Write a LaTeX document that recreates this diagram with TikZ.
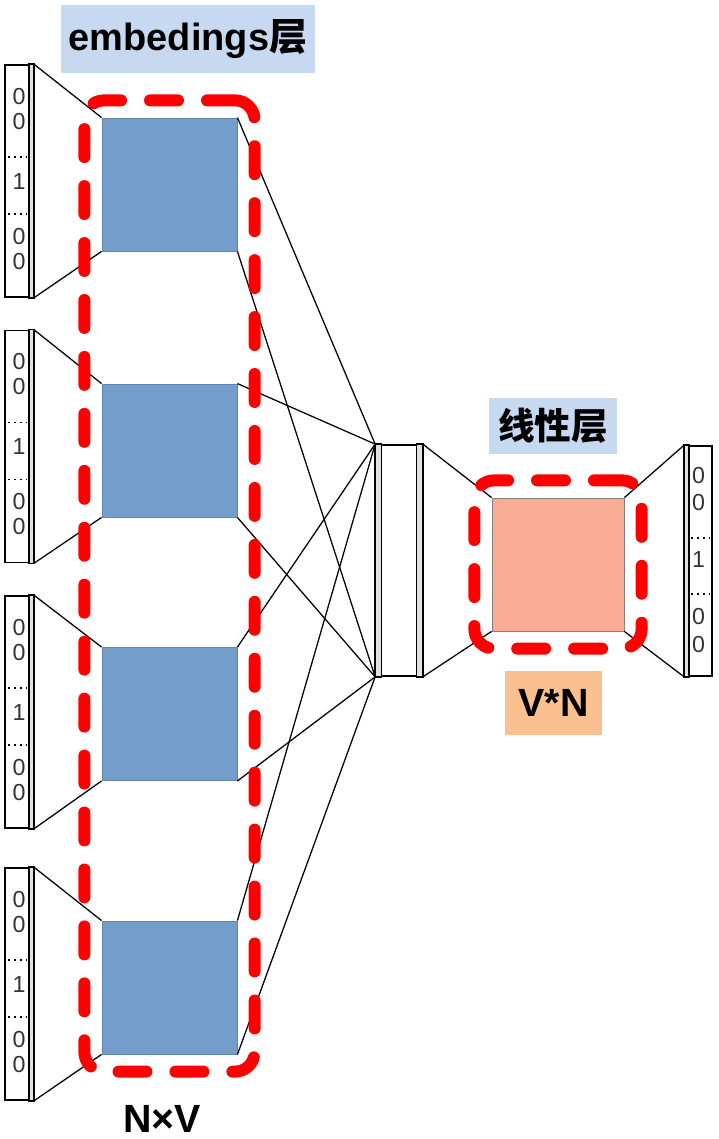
\documentclass[tikz,border=0pt]{standalone}
\usepackage{fontspec}
\setmainfont{Liberation Sans}
\newfontfamily\cjk{Noto Sans CJK SC}
\usepackage{tikz}
\usetikzlibrary{fit,calc,positioning}
\definecolor{embblue}{RGB}{115,158,203}
\definecolor{linpink}{RGB}{249,171,149}
\definecolor{capblue}{RGB}{198,217,241}
\definecolor{caporange}{RGB}{250,192,144}
\newcommand\bw{3.375cm}
\newcommand\bh{3.325cm}

\begin{document}
\begin{tikzpicture}[x=0.025cm, y=-0.025cm, line width=0.9pt,
  vec/.style={draw, line width=1.2pt, minimum width=0.7cm, minimum height=5.8cm, inner sep=0pt},
  strip/.style={draw, line width=1.2pt, fill=black!12},
  emb/.style={draw=embblue!85!black, line width=0.6pt, fill=embblue, minimum width=\bw, minimum height=\bh, inner sep=0pt},
  digit/.style={text=black!80, font=\fontsize{16.5pt}{17pt}\selectfont, inner sep=0pt},
  dots/.style={line width=1pt, dash pattern=on 1.2pt off 3pt},
  title/.style={fill=capblue, inner sep=0pt, font=\bfseries\fontsize{26pt}{30pt}\selectfont},
  box/.style={draw, red, dashed, line width=8.5pt, dash pattern=on 19.9pt off 20.6pt, line cap=round, inner sep=0.43cm, rounded corners=14pt}]

    \useasboundingbox (0,0) rectangle (718,1139);

    % one-hot inputs
    \node[vec] (v1) at (19,181) {};
    \node[vec] (v2) at (19,446.5) {};
    \node[vec] (v3) at (19,712) {};
    \node[vec] (v4) at (19,984) {};

    % embedding matrices
    \node[emb] (e1) at (169.5,184.5) {};
    \node[emb] (e2) at (169.5,450.5) {};
    \node[emb] (e3) at (169.5,714) {};
    \node[emb] (e4) at (169.5,987.5) {};

    \node[vec, minimum width=1.15cm, minimum height=5.775cm] (h) at (399,560.5) {};
    \node[draw=black!50, line width=0.6pt, fill=linpink, minimum width=3.3cm, minimum height=3.325cm, inner sep=0pt] (lin) at (558,564.5) {};
    \node[vec, minimum width=0.675cm, minimum height=5.75cm] (out) at (698.5,561) {};

    \foreach \i in {1,...,4}{
        \draw[strip] ($(v\i.north east)+(-5,0)$) rectangle (v\i.south east);
        \draw (v\i.north east) -- (e\i.north west);
        \draw (v\i.south east) -- (e\i.south west);
        \draw (e\i.north east) -- (h.north west);
        \draw (e\i.south east) -- (h.south west);
        \foreach \d/\dy [count=\k] in {0/32,0/57,1/117,0/172,0/197}
            \node[digit] (v\i-\k) at ($(v\i.north)+(0,\dy)$) {\d};
        \draw[dots] ($(v\i.north west)+(4,93)$) -- ($(v\i.north west)+(23,93)$);
        \draw[dots] ($(v\i.north west)+(4,150)$) -- ($(v\i.north west)+(23,150)$);
    }

    %hidden layer
    \draw[strip] (h.north west) rectangle ($(h.south west)+(6.5,0)$);
    \draw[strip] ($(h.north east)+(-6.5,0)$) rectangle (h.south east);
    \draw (h.north east) -- (lin.north west);
    \draw (h.south east) -- (lin.south west);

    %output
    \draw[strip] (out.north west) rectangle ($(out.south west)+(5,0)$);
    \draw (lin.north east) -- (out.north west);
    \draw (lin.south east) -- (out.south west);
    \foreach \d/\dy [count=\k] in {0/30,0/57,1/114,0/171,0/199}
        \node[digit] (out-\k) at ($(out.north)+(0,\dy)$) {\d};
    \draw[dots] ($(out.north west)+(7,93)$) -- ($(out.north west)+(25,93)$);
    \draw[dots] ($(out.north west)+(7,149)$) -- ($(out.north west)+(25,149)$);

    % labels
    \node[title, font=\bfseries\fontsize{27pt}{30pt}\selectfont, minimum width=6.35cm, minimum height=1.7cm] (embcap) at (188,39) {embedings{\cjk 层}};
    \node[title, minimum width=3.2cm, minimum height=1.4cm] (lincap) at (553,426) {\cjk 线性层};
    \node[title, font=\bfseries\fontsize{28pt}{30pt}\selectfont, fill=caporange, minimum width=2.425cm, minimum height=1.6cm] (vn) at (553.5,703) {V*N};
    \node[inner sep=0pt, font=\bfseries\fontsize{28pt}{30pt}\selectfont] (nv) at (162,1119) {N×V};

    \node[box, fit=(e1)(e4)] (embfit) {};
    \node[box, fit=(lin)] (linfit) {};
\end{tikzpicture}
\end{document}
